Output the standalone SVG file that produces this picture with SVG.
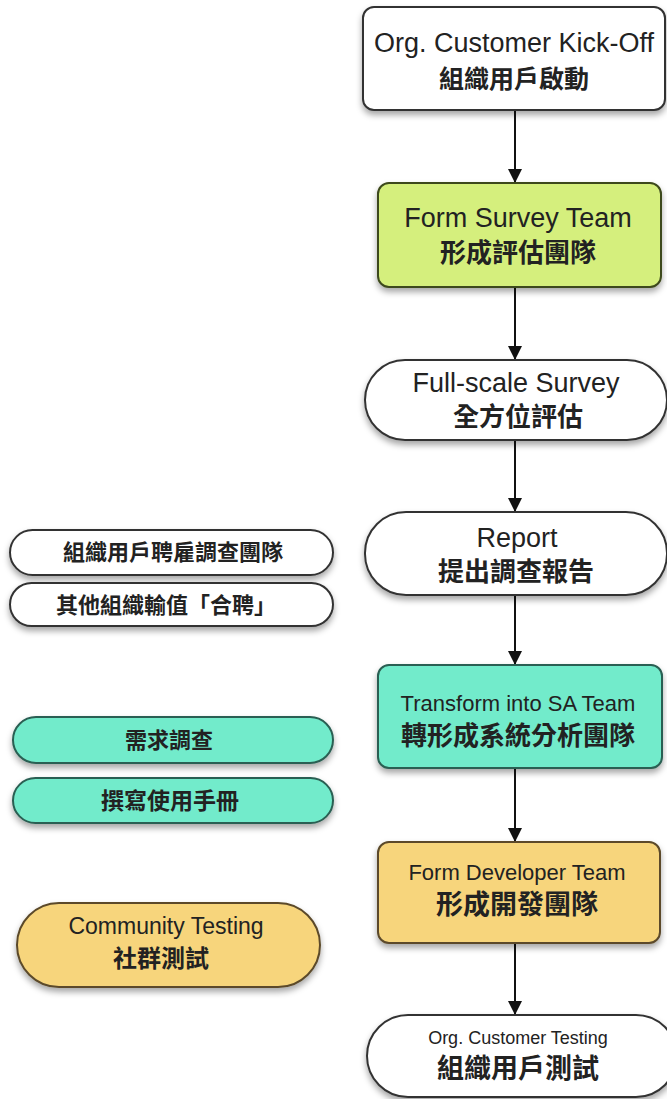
<svg xmlns="http://www.w3.org/2000/svg" width="667" height="1099" viewBox="0 0 667 1099">
<style>
.en{font-family:"Liberation Sans",Arial,"Noto Sans CJK TC",sans-serif;fill:#222;text-anchor:middle}
.zh{font-family:"Noto Sans CJK TC","Noto Sans CJK SC",sans-serif;fill:#222;text-anchor:middle;font-weight:bold}
.white{fill:#ffffff;stroke:#333;stroke-width:2}
.green{fill:#d5ef7d;stroke:#3d4a1c;stroke-width:2}
.teal{fill:#72ebcb;stroke:#2a5f52;stroke-width:2}
.gold{fill:#f7d57c;stroke:#5b4a2a;stroke-width:2}
.conn{stroke:#111;stroke-width:2;fill:none;marker-end:url(#arrow)}
</style>
<defs>
<filter id="sh" x="-10%" y="-20%" width="120%" height="150%">
<feDropShadow dx="0" dy="4" stdDeviation="3" flood-color="#000" flood-opacity="0.35"/>
</filter>
<marker id="arrow" markerUnits="userSpaceOnUse" markerWidth="14" markerHeight="16" refX="14" refY="7" orient="auto">
<path d="M0,0 L14,7 L0,14 Z" fill="#111"/>
</marker>
</defs>
<rect width="667" height="1099" fill="#ffffff"/>
<g id="connectors">
<line class="conn" x1="515" y1="111" x2="515" y2="183"/>
<line class="conn" x1="515" y1="288" x2="515" y2="360"/>
<line class="conn" x1="515" y1="441" x2="515" y2="512"/>
<line class="conn" x1="515" y1="596" x2="515" y2="665"/>
<line class="conn" x1="515" y1="769" x2="515" y2="842"/>
<line class="conn" x1="515" y1="944" x2="515" y2="1015"/>
</g>
<g id="n1">
<rect class="white" x="363" y="7" width="302" height="103" rx="11" filter="url(#sh)"/>
<text class="en" x="514" y="52" font-size="27">Org. Customer Kick-Off</text>
<text class="zh" x="514" y="88" font-size="25" font-weight="normal">組織用戶啟動</text>
</g>
<g id="n2">
<rect class="green" x="378" y="183" width="283" height="104" rx="11" filter="url(#sh)"/>
<text class="en" x="518" y="227" font-size="27">Form Survey Team</text>
<text class="zh" x="518" y="262" font-size="26">形成評估團隊</text>
</g>
<g id="n3">
<rect class="white" x="365" y="360" width="302" height="80" rx="40" filter="url(#sh)"/>
<text class="en" x="516" y="392" font-size="27">Full-scale Survey</text>
<text class="zh" x="518" y="426" font-size="26">全方位評估</text>
</g>
<g id="n4">
<rect class="white" x="365" y="512" width="302" height="83" rx="41" filter="url(#sh)"/>
<text class="en" x="517" y="547" font-size="27">Report</text>
<text class="zh" x="516" y="581" font-size="26">提出調查報告</text>
</g>
<g id="n5">
<rect class="teal" x="378" y="665" width="284" height="103" rx="11" filter="url(#sh)"/>
<text class="en" x="518" y="711" font-size="22">Transform into SA Team</text>
<text class="zh" x="518" y="745" font-size="26">轉形成系統分析團隊</text>
</g>
<g id="n6">
<rect class="gold" x="378" y="842" width="282" height="101" rx="11" filter="url(#sh)"/>
<text class="en" x="517" y="880" font-size="22">Form Developer Team</text>
<text class="zh" x="517" y="914" font-size="27">形成開發團隊</text>
</g>
<g id="n7">
<rect class="white" x="367" y="1015" width="310" height="82" rx="41" filter="url(#sh)"/>
<text class="en" x="518" y="1044" font-size="18">Org. Customer Testing</text>
<text class="zh" x="518" y="1078" font-size="27">組織用戶測試</text>
</g>
<g id="p1">
<rect class="white" x="10" y="530" width="323" height="45" rx="22.5" filter="url(#sh)"/>
<text class="zh" x="173" y="560" font-size="22">組織用戶聘雇調查團隊</text>
</g>
<g id="p2">
<rect class="white" x="10" y="583" width="323" height="43" rx="21.5" filter="url(#sh)"/>
<text class="zh" x="166" y="613" font-size="22">其他組織輸值「合聘」</text>
</g>
<g id="p3">
<rect class="teal" x="13" y="717" width="320" height="46" rx="23" filter="url(#sh)"/>
<text class="zh" x="169" y="748" font-size="22">需求調查</text>
</g>
<g id="p4">
<rect class="teal" x="13" y="778" width="320" height="45" rx="22.5" filter="url(#sh)"/>
<text class="zh" x="170" y="809" font-size="23">撰寫使用手冊</text>
</g>
<g id="p5">
<rect class="gold" x="17" y="903" width="303" height="84" rx="42" filter="url(#sh)"/>
<text class="en" x="166" y="934" font-size="23">Community Testing</text>
<text class="zh" x="161" y="967" font-size="24">社群測試</text>
</g>
</svg>
